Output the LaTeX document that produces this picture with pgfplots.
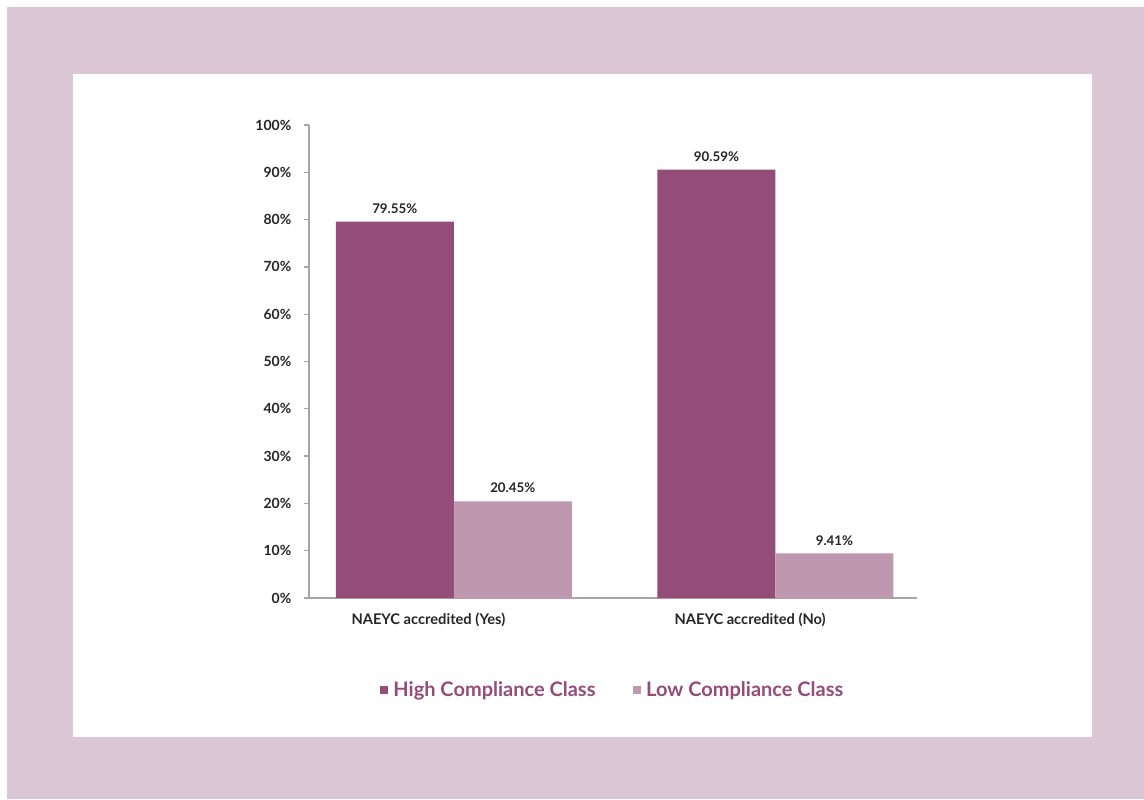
\documentclass[border=0pt]{standalone}
\usepackage{pgfplots}
\pgfplotsset{compat=1.18}
\usepackage{fontspec}
\setmainfont{Lato}
\definecolor{bgpink}{HTML}{DBC6D3}
\definecolor{hiC}{HTML}{944C78}
\definecolor{loC}{HTML}{BF97AF}
\definecolor{axgray}{HTML}{A6A6A6}
\definecolor{txt}{HTML}{262626}
\begin{document}
\begin{tikzpicture}
\fill[white] (0pt,0pt) rectangle (858pt,599.25pt);
\fill[bgpink] (5.25pt,0pt) rectangle (858pt,594pt);
\fill[white] (54.75pt,46.5pt) rectangle (819pt,543.75pt);
\begin{axis}[
  at={(231.75pt,150.75pt)}, anchor=south west,
  scale only axis, width=456pt, height=354.75pt,
  xmin=-0.45, xmax=1.44, ymin=0, ymax=100,
  axis x line*=bottom, axis y line*=left,
  axis line style={axgray, line width=1.1pt},
  ybar=0pt, bar width=88.5pt,
  ytick={0,10,...,100},
  yticklabels={0\%,10\%,20\%,30\%,40\%,50\%,60\%,70\%,80\%,90\%,100\%},
  xtick={0,1},
  xticklabels={NAEYC accredited (Yes), NAEYC accredited (No)},
  x tick style={draw=none},
  y tick style={axgray, line width=1pt},
  tick align=outside, major tick length=3.75pt,
  yticklabel style={font=\bfseries\fontsize{10.5}{12}\selectfont, text=txt, xshift=-6pt},
  xticklabel style={font=\bfseries\fontsize{11}{13}\selectfont, text=txt, xshift=-19pt, yshift=-4pt},
  point meta=explicit symbolic,
  nodes near coords={\pgfplotspointmeta\%},
  nodes near coords style={font=\bfseries\fontsize{10}{12}\selectfont, text=txt, anchor=south, inner sep=0pt, yshift=6pt},
  legend style={draw=none, fill=none, at={(0.5,-0.1945)}, anchor=center, legend columns=2,
    font=\bfseries\fontsize{15}{17}\selectfont, text=hiC,
    /tikz/every even column/.append style={column sep=26pt},
    /tikz/every odd column/.append style={column sep=2pt}},
  legend image code/.code={\fill[#1] (0pt,-3pt) rectangle (6pt,3pt);},
]
\addplot[fill=hiC, draw=none] coordinates {(0,79.55)[79.55] (1,90.59)[90.59]};
\addplot[fill=loC, draw=none] coordinates {(0,20.45)[20.45] (1,9.41)[9.41]};
\legend{High Compliance Class, Low Compliance Class}
\end{axis}
\end{tikzpicture}
\end{document}
